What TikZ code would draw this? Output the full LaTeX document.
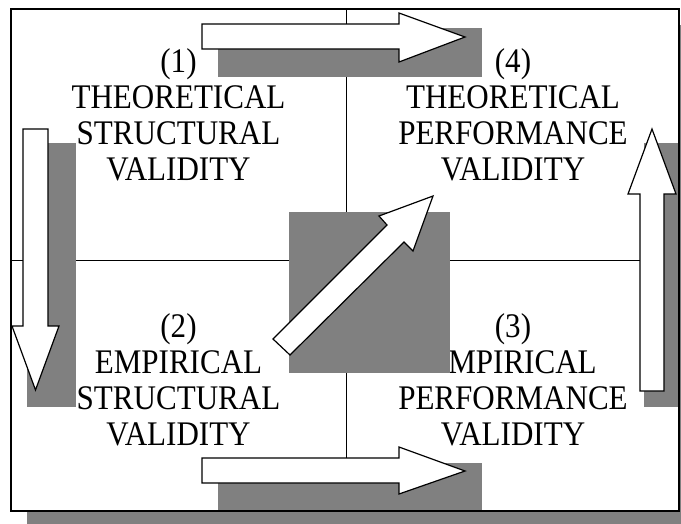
\documentclass[tikz,border=0pt]{standalone}
\usepackage{fontspec}
\setmainfont{Liberation Serif}[FakeStretch=0.9]
\begin{document}
\begin{tikzpicture}[x=1pt,y=-1pt,
  shadowfill/.style={fill=shadegray,draw=none},
  arrowbody/.style={fill=white,draw=black,line width=1.2pt,line join=miter},
  divider/.style={draw=black,line width=1pt},
  frame/.style={draw=black,line width=1.6pt},
  quad/.style={align=center,inner sep=0pt,anchor=base,font=\fontsize{34.5}{36}\selectfont}]
\definecolor{shadegray}{HTML}{808080}
\useasboundingbox (0,0) rectangle (681,523);
% outer box shadow and fill
\path[shadowfill] (27,25) rectangle (695,527);
\fill[white] (11,9) rectangle (679,511);
% dividers
\coordinate (vt) at (346,9);
\coordinate (vb) at (346,511);
\coordinate (hl) at (11,260);
\coordinate (hr) at (679,260);
\draw[divider] (vt) -- (vb);
\draw[divider] (hl) -- (hr);
% texts (anchor base = baseline of last line)
\node[quad] (q1) at (178.5,180) {(1)\\THEORETICAL\\STRUCTURAL\\VALIDITY};
\node[quad] (q4) at (513,180) {(4)\\THEORETICAL\\PERFORMANCE\\VALIDITY};
\node[quad] (q2) at (178.5,445) {(2)\\EMPIRICAL\\STRUCTURAL\\VALIDITY};
\node[quad] (q3) at (513,445) {(3)\\EMPIRICAL\\PERFORMANCE\\VALIDITY};
% arrow shadows
\path[shadowfill] (218,28) rectangle (482,77);
\path[shadowfill] (218,463) rectangle (482,511);
\path[shadowfill] (27,143) rectangle (76,407);
\path[shadowfill] (644,143) rectangle (692,407);
\path[shadowfill] (289,212) rectangle (450,373);
% arrows
\draw[arrowbody] (202,24) -- (399,24) -- (399,13) -- (465,37) -- (399,62) -- (399,49) -- (202,49) -- cycle;
\draw[arrowbody] (202,458) -- (399,458) -- (399,447) -- (465,471) -- (399,494) -- (399,483) -- (202,483) -- cycle;
\draw[arrowbody] (23,129) -- (48,129) -- (48,326) -- (59,326) -- (35.5,390) -- (12,326) -- (23,326) -- cycle;
\draw[arrowbody] (640,391) -- (640,194) -- (628,194) -- (652,129) -- (676,194) -- (664,194) -- (664,391) -- cycle;
\draw[arrowbody] (290,355) -- (404,242) -- (413,251) -- (433,196) -- (379,216) -- (387,225) -- (273,339) -- cycle;
% frame
\draw[frame] (11,9) rectangle (679,511);
\end{tikzpicture}
\end{document}
